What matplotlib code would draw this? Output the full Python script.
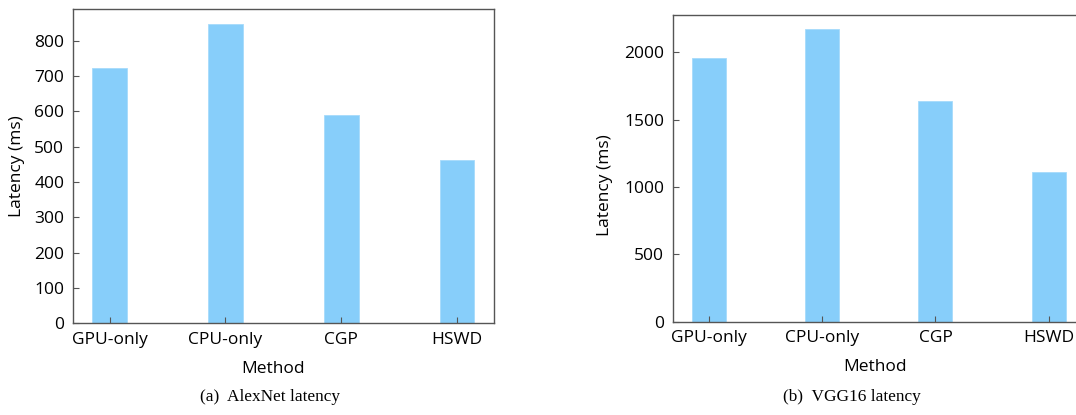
import matplotlib
matplotlib.use("Agg")
import matplotlib.pyplot as plt
from matplotlib.ticker import MultipleLocator

methods = ["GPU-only", "CPU-only", "CGP", "HSWD"]
alexnet_latency = [723, 846, 590, 463]
vgg16_latency = [1955, 2171, 1641, 1114]

W, H = 1076, 415
fig = plt.figure(figsize=(W / 100, H / 100), dpi=100)
plt.rcParams['font.family'] = ['Open Sans', 'DejaVu Sans']

bar_color = '#87CEFA'
spine_color = '#555555'


def px_axes(x0, y0, x1, y1):
    return fig.add_axes([x0 / W, 1 - y1 / H, (x1 - x0) / W, (y1 - y0) / H])


def style(ax, values, step, xlab_frac, ylab_xy):
    x = list(range(len(methods)))
    ax.bar(x, values, width=0.3, color=bar_color, edgecolor='#a6dbfb', linewidth=0.6)
    ax.set_xlim(-0.32, len(methods) - 1 + 0.32)
    ax.set_ylim(0, max(values) * 1.05)
    ax.yaxis.set_major_locator(MultipleLocator(step))
    ax.set_xticks(x)
    ax.set_xticklabels(methods)
    for s in ax.spines.values():
        s.set_color(spine_color)
        s.set_linewidth(1.0)
    ax.tick_params(direction='in', length=4, width=0.8, color=spine_color,
                   labelsize=12.5, pad=6)
    ax.set_xlabel("Method", fontsize=12.5)
    ax.set_ylabel("Latency (ms)", fontsize=12.5)
    ax.xaxis.set_label_coords(xlab_frac, -0.12)
    ax.yaxis.set_label_coords(*ylab_xy)


ax1 = px_axes(72.7, 9.5, 494, 323.3)
style(ax1, alexnet_latency, 100, 0.475, (-0.113, 0.5))

ax2 = px_axes(672.7, 14.7, 1085, 321.7)
style(ax2, vgg16_latency, 500, 0.491, (-0.145, 0.445))

fig.text(269.5 / W, 1 - 397 / H, "(a)  AlexNet latency", ha='center', va='center',
         fontsize=12.4, family='Liberation Serif')
fig.text(852 / W, 1 - 397 / H, "(b)  VGG16 latency", ha='center', va='center',
         fontsize=12.4, family='Liberation Serif')

fig.savefig("out.png", dpi=100)
